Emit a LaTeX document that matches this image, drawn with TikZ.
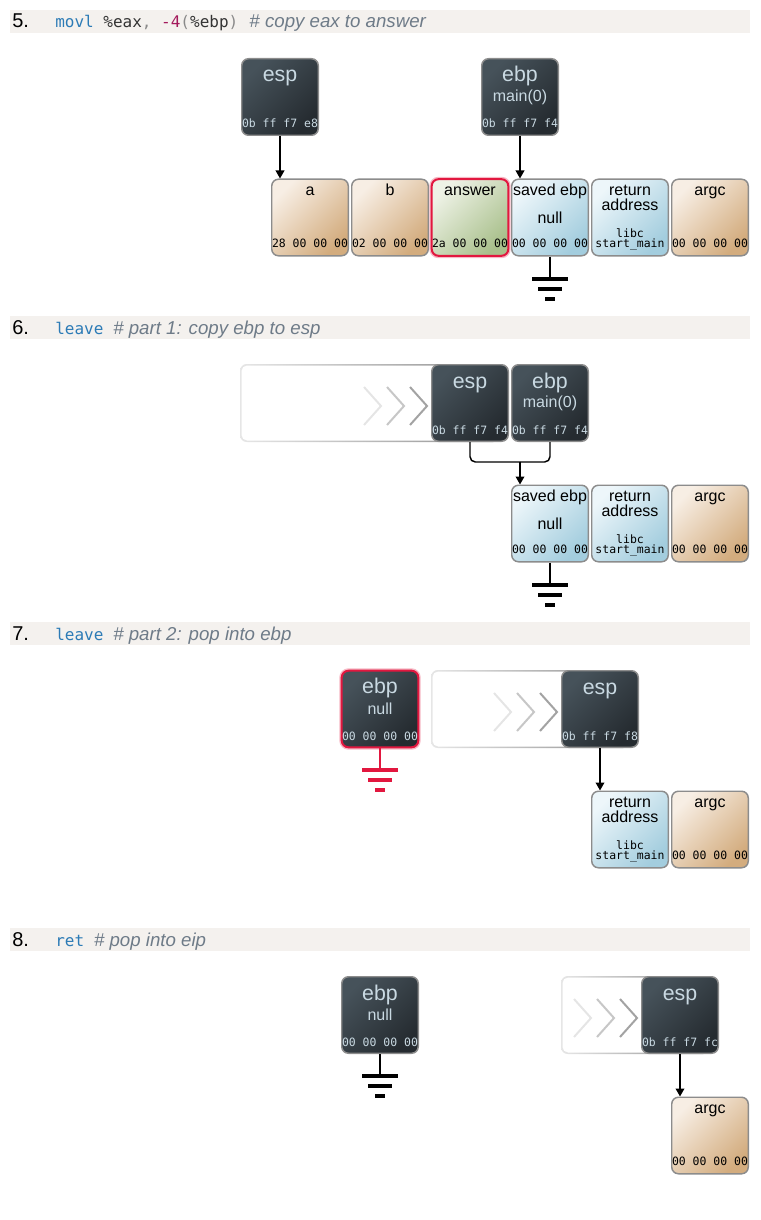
\documentclass[tikz,border=0pt]{standalone}
\usepackage{fontspec}
\setmainfont{Liberation Sans}
\setmonofont{DejaVu Sans Mono}
\usepackage{xcolor}
\usepackage{tikz}
\usetikzlibrary{positioning}
\usetikzlibrary{arrows.meta}

\definecolor{band}{HTML}{F4F1EE}
\definecolor{kw}{HTML}{2C7BB6}
\definecolor{num}{HTML}{A3195B}
\definecolor{punc}{HTML}{8A8A8A}
\definecolor{codetxt}{HTML}{333333}
\definecolor{cmt}{HTML}{6E7B88}
\definecolor{regtop}{HTML}{46525A}
\definecolor{regbot}{HTML}{252B30}
\definecolor{regtxt}{HTML}{C9D9E2}
\definecolor{tantop}{HTML}{F7EEE4}
\definecolor{tanbot}{HTML}{D3AC7E}
\definecolor{blutop}{HTML}{EDF6FA}
\definecolor{blubot}{HTML}{A3CDDE}
\definecolor{grntop}{HTML}{EEF2E6}
\definecolor{grnbot}{HTML}{A9C08C}
\definecolor{hl}{HTML}{E2173F}
\definecolor{edge}{HTML}{8C8C8C}
\definecolor{ghostL}{HTML}{E6E6E6}
\definecolor{ghostR}{HTML}{8E8E8E}

\tikzset{
  box/.style={draw=edge, line width=1.1pt, rounded corners=5pt,
    minimum width=57.4pt, minimum height=57.4pt, inner sep=0pt,
    font=\fontsize{12}{14}\selectfont},
  reg/.style={box, top color=regtop, bottom color=regbot, shading angle=45, text=regtxt},
  tan/.style={box, top color=tantop, bottom color=tanbot, shading angle=45},
  blu/.style={box, top color=blutop, bottom color=blubot, shading angle=45},
  grn/.style={box, top color=grntop, bottom color=grnbot, shading angle=45},
  hlite/.style={draw=hl, line width=1.5pt, preaction={draw=hl!30, line width=3.6pt}},
  rttl/.style={anchor=base, yshift=-18pt, inner sep=0pt, text=regtxt,
    font=\fontsize{16}{18}\selectfont},
  rhex/.style={anchor=base, yshift=6pt, inner sep=0pt, text=regtxt,
    font=\fontsize{8.6}{7.8}\ttfamily},
  cttl/.style={anchor=base, yshift=-12.8pt, inner sep=0pt,
    font=\fontsize{12}{11.5}\selectfont},
  chex/.style={anchor=base, yshift=7pt, inner sep=0pt,
    font=\fontsize{8.6}{7.8}\ttfamily},
  hnum/.style={anchor=base west, inner sep=0pt, font=\fontsize{15}{18}\selectfont},
  hcode/.style={anchor=base west, inner sep=0pt, text=codetxt, font=\fontsize{12}{14}\ttfamily},
  hcmt/.style={inner sep=0pt, text=cmt, font=\fontsize{14}{17}\itshape},
  ptr/.style={-{Triangle[length=6pt,width=6.5pt]}, line width=1.1pt},
  wire/.style={line width=1.1pt},
  gnd/.style={line width=2.6pt},
  ghost/.style={left color=ghostL, right color=ghostR, even odd rule},
  chev/.style={line width=1.5pt},
  chevA/.style={draw=black!10},
  chevB/.style={draw=black!22},
  chevC/.style={draw=black!36},
}

\begin{document}
\begin{tikzpicture}[x=0.75pt,y=-0.75pt]
  \useasboundingbox (0,0) rectangle (760,1220);

  % step 5
  \fill[band] (10,10) rectangle (750,33);
  \node[hnum] (n5) at (12,28) {5.};
  \node[hcode] (c5) at (55,28) {\textcolor{kw}{movl} \%eax\textcolor{punc}{,} \textcolor{num}{-4}\textcolor{punc}{(}\%ebp\textcolor{punc}{)}};
  \node[hcmt, base right=8pt of c5] (m5) {\# copy eax to answer};

  \node[reg, label={[rttl]north:esp}, label={[rhex]south:0b ff f7 e8}] (esp5) at (280,97) {};
  \node[reg, label={[rttl]north:ebp}, label={[rhex]south:0b ff f7 f4}] (ebp5) at (520,97) {main(0)};
  \node[tan, label={[cttl]north:a}, label={[chex]south:28 00 00 00}] (a5) at (310,217.5) {};
  \node[tan, label={[cttl]north:b}, label={[chex]south:02 00 00 00}] (b5) at (390,217.5) {};
  \node[grn, hlite, label={[cttl]north:answer}, label={[chex]south:2a 00 00 00}] (ans5) at (470,217.5) {};
  \node[blu, label={[cttl]north:saved ebp}, label={[chex]south:00 00 00 00}] (sebp5) at (550,217.5) {null};
  \node[blu, label={[cttl, align=center, yshift=-11.5pt]north:return\\address}, label={[chex, align=center, yshift=-0.5pt]south:libc\\start\_main}] (ret5) at (630,217.5) {};
  \node[tan, label={[cttl]north:argc}, label={[chex]south:00 00 00 00}] (argc5) at (710,217.5) {};
  \draw[ptr] (esp5) -- (esp5 |- a5.north);
  \draw[ptr] (ebp5) -- (ebp5 |- sebp5.north);
  \coordinate (g5) at (550,279);
  \draw[wire] (sebp5) -- (g5);
  \draw[gnd] (g5) ++(-18,0) -- ++(36,0) (g5) ++(-12,10) -- ++(24,0) (g5) ++(-5,20) -- ++(10,0);

  % step 6
  \fill[band] (10,316) rectangle (750,339);
  \node[hnum] (n6) at (12,334) {6.};
  \node[hcode] (c6) at (55,334) {\textcolor{kw}{leave}};
  \node[hcmt, base right=7pt of c6] (m6) {\# part 1: copy ebp to esp};

  \path[ghost, rounded corners=5pt] (240,364) rectangle (500,442)
    [rounded corners=4pt] (241.5,365.5) rectangle (498.5,440.5);
  \foreach \t/\c in {381/chevA,404/chevB,427/chevC}
    \draw[chev,\c] (\t-17,387) -- (\t,406) -- (\t-17,425);
  \node[reg, label={[rttl]north:esp}, label={[rhex]south:0b ff f7 f4}] (esp6) at (470,403) {};
  \node[reg, label={[rttl]north:ebp}, label={[rhex]south:0b ff f7 f4}] (ebp6) at (550,403) {main(0)};
  \node[blu, label={[cttl]north:saved ebp}, label={[chex]south:00 00 00 00}] (sebp6) at (550,523.5) {null};
  \node[blu, label={[cttl, align=center, yshift=-11.5pt]north:return\\address}, label={[chex, align=center, yshift=-0.5pt]south:libc\\start\_main}] (ret6) at (630,523.5) {};
  \node[tan, label={[cttl]north:argc}, label={[chex]south:00 00 00 00}] (argc6) at (710,523.5) {};
  \coordinate (j6) at (520,462);
  \draw[wire, rounded corners=4pt] (esp6) |- (j6);
  \draw[wire, rounded corners=4pt] (ebp6) |- (j6);
  \draw[ptr] (j6) -- (j6 |- sebp6.north);
  \coordinate (g6) at (550,585);
  \draw[wire] (sebp6) -- (g6);
  \draw[gnd] (g6) ++(-18,0) -- ++(36,0) (g6) ++(-12,10) -- ++(24,0) (g6) ++(-5,20) -- ++(10,0);

  % step 7
  \fill[band] (10,622) rectangle (750,645);
  \node[hnum] (n7) at (12,640) {7.};
  \node[hcode] (c7) at (55,640) {\textcolor{kw}{leave}};
  \node[hcmt, base right=7pt of c7] (m7) {\# part 2: pop into ebp};

  \node[reg, hlite, label={[rttl]north:ebp}, label={[rhex]south:00 00 00 00}] (ebp7) at (380,709) {null};
  \path[ghost, rounded corners=5pt] (431,670) rectangle (630,748)
    [rounded corners=4pt] (432.5,671.5) rectangle (628.5,746.5);
  \foreach \t/\c in {511/chevA,534/chevB,557/chevC}
    \draw[chev,\c] (\t-17,693) -- (\t,712) -- (\t-17,731);
  \node[reg, label={[rttl]north:esp}, label={[rhex]south:0b ff f7 f8}] (esp7) at (600,709) {};
  \node[blu, label={[cttl, align=center, yshift=-11.5pt]north:return\\address}, label={[chex, align=center, yshift=-0.5pt]south:libc\\start\_main}] (ret7) at (630,829.5) {};
  \node[tan, label={[cttl]north:argc}, label={[chex]south:00 00 00 00}] (argc7) at (710,829.5) {};
  \draw[ptr] (esp7) -- (esp7 |- ret7.north);
  \coordinate (g7) at (380,770);
  \draw[wire, draw=hl] (ebp7) -- (g7);
  \draw[gnd, draw=hl] (g7) ++(-18,0) -- ++(36,0) (g7) ++(-12,10) -- ++(24,0) (g7) ++(-5,20) -- ++(10,0);

  % step 8
  \fill[band] (10,928) rectangle (750,951);
  \node[hnum] (n8) at (12,946) {8.};
  \node[hcode] (c8) at (55,946) {\textcolor{kw}{ret}};
  \node[hcmt, base right=7pt of c8] (m8) {\# pop into eip};

  \node[reg, label={[rttl]north:ebp}, label={[rhex]south:00 00 00 00}] (ebp8) at (380,1015) {null};
  \path[ghost, rounded corners=5pt] (561,976) rectangle (710,1054)
    [rounded corners=4pt] (562.5,977.5) rectangle (708.5,1052.5);
  \foreach \t/\c in {591/chevA,614/chevB,637/chevC}
    \draw[chev,\c] (\t-17,999) -- (\t,1018) -- (\t-17,1037);
  \node[reg, label={[rttl]north:esp}, label={[rhex]south:0b ff f7 fc}] (esp8) at (680,1015) {};
  \node[tan, label={[cttl]north:argc}, label={[chex]south:00 00 00 00}] (argc8) at (710,1135.5) {};
  \draw[ptr] (esp8) -- (esp8 |- argc8.north);
  \coordinate (g8) at (380,1076);
  \draw[wire] (ebp8) -- (g8);
  \draw[gnd] (g8) ++(-18,0) -- ++(36,0) (g8) ++(-12,10) -- ++(24,0) (g8) ++(-5,20) -- ++(10,0);
\end{tikzpicture}
\end{document}
